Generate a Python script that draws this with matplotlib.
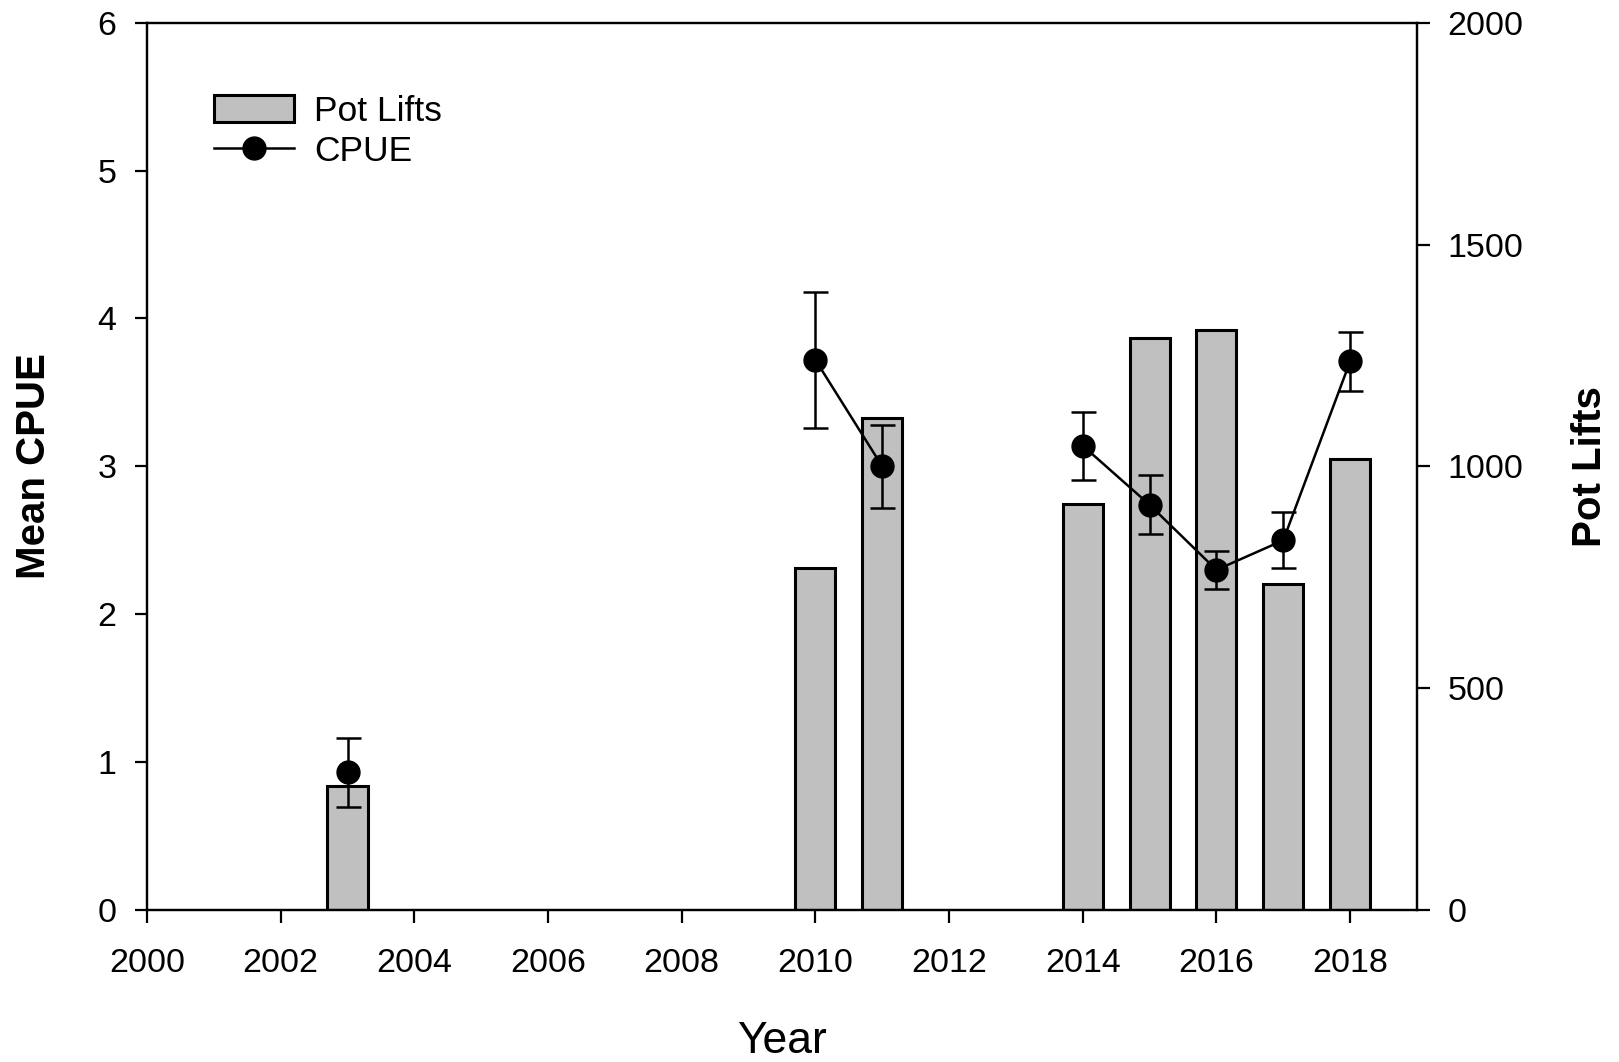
import numpy as np
import matplotlib
matplotlib.use("Agg")
import matplotlib.pyplot as plt
from matplotlib.lines import Line2D

plt.rcParams['font.family'] = ['Liberation Sans', 'DejaVu Sans']

# Data
years = [2003, 2010, 2011, 2014, 2015, 2016, 2017, 2018]
cpue = [0.93, 3.72, 3.00, 3.14, 2.74, 2.30, 2.50, 3.71]
cpue_err = [0.23, 0.46, 0.28, 0.23, 0.20, 0.13, 0.19, 0.20]
pot_lifts = [280, 770, 1110, 915, 1290, 1307, 735, 1017]

x_ticks = list(range(2000, 2019, 2))
cpue_ticks = [0, 1, 2, 3, 4, 5, 6]
lift_ticks = [0, 500, 1000, 1500, 2000]

fig = plt.figure(figsize=(16.19, 10.62), dpi=100)
ax = fig.add_axes([0.0908, 0.1431, 0.7844, 0.8355])
ax2 = ax.twinx()

# bars on the right axis, drawn underneath the CPUE line
bars = ax2.bar(years, pot_lifts, width=0.6, color='#c0c0c0',
               edgecolor='black', linewidth=2.2)
ax2.set_ylim(0, 2000)
ax2.set_yticks(lift_ticks)

# line is broken where years are missing
line_x, line_y = [], []
for i, (yr, v) in enumerate(zip(years, cpue)):
    if i > 0 and yr - years[i - 1] > 1:
        line_x.append(np.nan)
        line_y.append(np.nan)
    line_x.append(yr)
    line_y.append(v)
ax.plot(line_x, line_y, color='black', linewidth=1.8)
ax.errorbar(years, cpue, yerr=cpue_err, fmt='o', color='black',
            markersize=16.5, elinewidth=1.8, capsize=9, capthick=1.8)
ax.set_zorder(ax2.get_zorder() + 1)
ax.patch.set_visible(False)

ax.set_xlim(2000, 2019)
ax.set_ylim(0, 6)
ax.set_xticks(x_ticks)
ax.set_yticks(cpue_ticks)

ax.set_xlabel('Year', fontsize=32, va='center')
ax.xaxis.set_label_coords(0.5, -0.148)
ax.set_ylabel('Mean CPUE', fontsize=29, fontweight='bold', va='center')
ax.yaxis.set_label_coords(-0.089, 0.5)
ax2.set_ylabel('Pot Lifts', fontsize=29, fontweight='bold', va='center')
ax2.yaxis.set_label_coords(1.136, 0.5)

for a in (ax, ax2):
    for s in a.spines.values():
        s.set_linewidth(1.6)
    a.tick_params(direction='out', length=9, width=1.6, labelsize=24.5, pad=13)
ax.tick_params(axis='x', pad=18)

cpue_handle = Line2D([], [], color='black', marker='o', markersize=16.5,
                     linewidth=1.8)
ax.legend([bars, cpue_handle], ['Pot Lifts', 'CPUE'], loc='upper left',
          bbox_to_anchor=(0.028, 0.955), frameon=False, fontsize=25.5,
          handlelength=2.25, handleheight=0.8, handletextpad=0.56,
          labelspacing=0.2)

fig.savefig('out.png', dpi=100)
